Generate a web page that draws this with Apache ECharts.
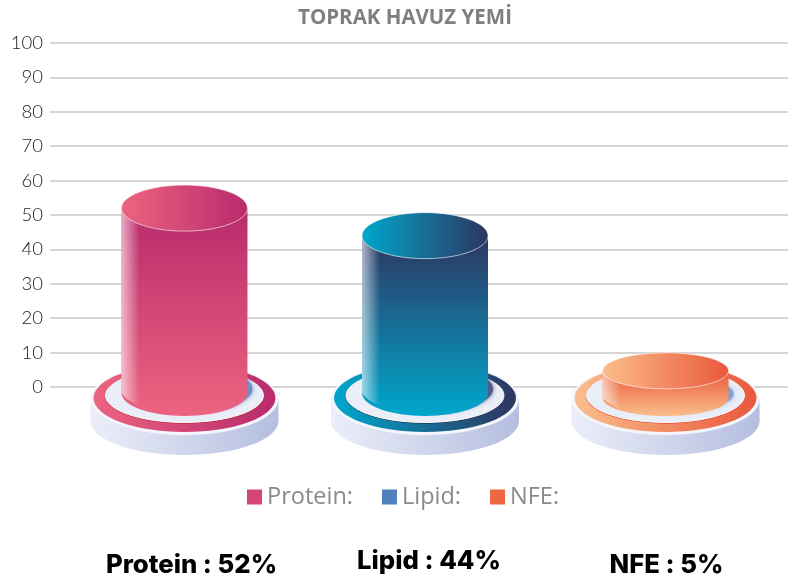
<!DOCTYPE html>
<html>
<head>
<meta charset="utf-8">
<title>TOPRAK HAVUZ YEMİ</title>
<script src="https://cdn.jsdelivr.net/npm/echarts@6/dist/echarts.min.js"></script>
<style>
  html, body { margin: 0; padding: 0; background: #fff; }
  #chart { width: 788px; height: 584px; }
</style>
</head>
<body>
<div id="chart"></div>
<script>
var chartTitle = 'TOPRAK HAVUZ YEMİ';
var categories = ['Protein:', 'Lipid:', 'NFE:'];
var values = [52, 44, 5];
var summaryLabels = ['Protein : 52%', 'Lipid : 44%', 'NFE : 5%'];
var legendColors = ['#D4457A', '#4F81BD', '#EE673F'];
var lightColors = ['#EC6480', '#00A7CC', '#FBBE8C'];
var darkColors = ['#B92A6C', '#2E3560', '#E9583A'];
var lineColors = ['#B5121B', '#141832', '#E02A1A'];
var shadowColors = ['#6F8FC8', '#55598A', '#7FA0D8'];

var myChart = echarts.init(document.getElementById('chart'));

function hGrad(left, right) {
    return new echarts.graphic.LinearGradient(0, 0, 1, 0, [
        {offset: 0, color: left},
        {offset: 1, color: right}
    ]);
}

function renderCylinder(params, api) {
    var i = api.value(0);
    var top = api.coord([i, api.value(1)]);
    var zero = api.coord([i, 0]);
    var cx = zero[0];
    var y0 = zero[1];
    var light = lightColors[i];
    var dark = darkColors[i];

    // short cylinders are drawn flatter and sit a little lower
    var ry = api.value(1) < 10 ? 18 : 23;
    var rx = 63;
    var topY = top[1] + (api.value(1) < 10 ? 1 : 0);
    var baseY = y0 + (api.value(1) < 10 ? 11 : 6);

    var bodyPath = 'M' + (cx - rx) + ' ' + topY +
        'L' + (cx - rx) + ' ' + baseY +
        'A' + rx + ' ' + ry + ' 0 0 0 ' + (cx + rx) + ' ' + baseY +
        'L' + (cx + rx) + ' ' + topY + 'Z';
    var highlightPath = 'M' + (cx - rx) + ' ' + topY +
        'L' + (cx - rx) + ' ' + baseY +
        'A' + rx + ' ' + ry + ' 0 0 0 ' + (cx - rx + 18) + ' ' + (baseY + ry * 0.53) +
        'L' + (cx - rx + 18) + ' ' + topY + 'Z';

    return {
        type: 'group',
        children: [
            // pedestal
            {type: 'ellipse', shape: {cx: cx, cy: y0 + 34, rx: 94, ry: 34}, style: {fill: hGrad('#EBEEF9', '#B4BEDF')}},
            {type: 'rect', shape: {x: cx - 94, y: y0 + 12, width: 188, height: 22}, style: {fill: hGrad('#EBEEF9', '#B4BEDF')}},
            {type: 'ellipse', shape: {cx: cx, cy: y0 + 12, rx: 94, ry: 36}, style: {fill: '#F4F6FC'}},
            {type: 'ellipse', shape: {cx: cx, cy: y0 + 11, rx: 91, ry: 34}, style: {fill: hGrad(light, dark)}},
            {type: 'ellipse', shape: {cx: cx, cy: y0 + 9, rx: 79.5, ry: 27.5}, style: {fill: lineColors[i]}},
            {type: 'ellipse', shape: {cx: cx, cy: y0 + 8.5, rx: 79, ry: 27}, style: {fill: '#E9EEF8', stroke: '#F8FAFE', lineWidth: 1}},
            // soft shadow on the pedestal
            {type: 'ellipse', shape: {cx: cx + 5, cy: baseY - 4, rx: rx, ry: ry}, style: {
                fill: shadowColors[i], shadowBlur: 4, shadowColor: shadowColors[i]
            }},
            // body
            {type: 'path', shape: {pathData: bodyPath}, style: {
                fill: new echarts.graphic.LinearGradient(0, 0, 0, 1, [
                    {offset: 0, color: dark},
                    {offset: 1, color: light}
                ])
            }},
            {type: 'path', shape: {pathData: highlightPath}, style: {
                fill: new echarts.graphic.LinearGradient(0, 0, 1, 0, [
                    {offset: 0, color: 'rgba(255,255,255,0.62)'},
                    {offset: 1, color: 'rgba(255,255,255,0)'}
                ])
            }},
            // top
            {type: 'ellipse', shape: {cx: cx, cy: topY, rx: rx, ry: ry}, style: {
                fill: hGrad(light, dark), stroke: 'rgba(255,255,255,0.6)', lineWidth: 1
            }}
        ]
    };
}

var series = categories.map(function (name, i) {
    return {
        name: name,
        type: 'custom',
        renderItem: renderCylinder,
        itemStyle: {color: legendColors[i]},
        encode: {x: 0, y: 1},
        data: [[i, values[i]]],
        silent: true
    };
});

var textPos = [[191.5, 565], [429, 561], [666.5, 565]];

var option = {
    animation: false,
    backgroundColor: '#fff',
    title: {
        text: chartTitle,
        left: 400,
        top: 3,
        textAlign: 'center',
        textStyle: {color: '#7F7F7F', fontFamily: 'Open Sans', fontSize: 20.5, fontWeight: 'bold'}
    },
    legend: {
        left: 242,
        top: 480,
        icon: 'rect',
        itemWidth: 15,
        itemHeight: 15,
        itemGap: 29,
        selectedMode: false,
        textStyle: {color: '#8A8A8A', fontFamily: 'Open Sans', fontSize: 23.5},
        data: categories
    },
    grid: {left: 50, right: 0, top: 43, bottom: 197},
    xAxis: {type: 'value', min: -0.559, max: 2.509, show: false},
    yAxis: {
        type: 'value',
        min: 0,
        max: 100,
        interval: 10,
        axisLine: {show: false},
        axisTick: {show: false},
        axisLabel: {color: '#222', fontFamily: 'Lato', fontSize: 18.5, fontWeight: 300, margin: 7},
        splitLine: {lineStyle: {color: '#C9C9C9', width: 1.5}}
    },
    graphic: summaryLabels.map(function (t, i) {
        return {
            type: 'text',
            x: textPos[i][0],
            y: textPos[i][1],
            style: {
                text: t,
                fill: '#000',
                font: '800 25.7px Inter',
                textAlign: 'center',
                textVerticalAlign: 'middle'
            }
        };
    }),
    series: series
};

myChart.setOption(option);
</script>
</body>
</html>
